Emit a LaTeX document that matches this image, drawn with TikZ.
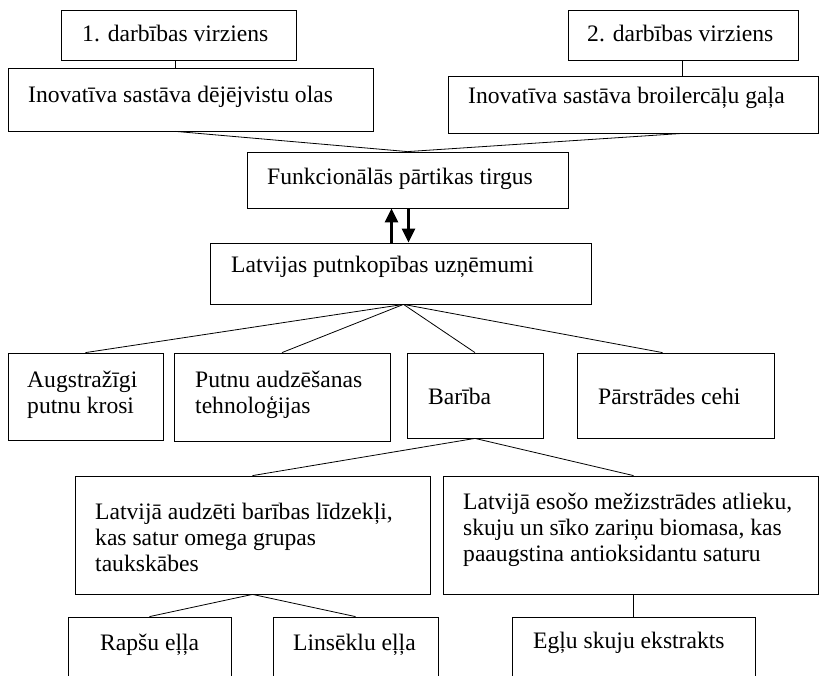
\documentclass[tikz,border=0pt]{standalone}
\usepackage{fontspec}
\setmainfont{Liberation Serif}
\usetikzlibrary{arrows.meta,calc}
\newcommand{\fsz}{\fontsize{23.6}{26.5}\selectfont}
\begin{document}
\begin{tikzpicture}[x=1pt,y=-1pt,
  box/.style={draw, line width=0.8pt, inner sep=0pt},
  txt/.style={font=\fsz, inner sep=0pt, anchor=base west},
  con/.style={line width=0.8pt},
  arr/.style={line width=2.4pt, -{Triangle[length=14pt,width=13pt]}}]
\useasboundingbox (0,0) rectangle (820,676);
\clip (0,0) rectangle (820,676);
\fill[white] (0,0) rectangle (820,676);
% boxes
\newcommand{\boxat}[5]{\node[box, minimum width={#4-#2}, minimum height={#5-#3}] (#1) at ({(#2+#4)/2},{(#3+#5)/2}) {};}
\boxat{dv1}{61}{10}{296}{60}
\boxat{dv2}{568}{10}{798}{60}
\boxat{in1}{8}{68}{373}{131}
\boxat{in2}{448}{76}{818}{133}
\boxat{fun}{247}{152}{568}{208}
\boxat{lat}{210}{243}{591}{304}
\boxat{aug}{8}{353}{163}{440}
\boxat{put}{174}{353}{390}{441}
\boxat{bar}{407}{353}{543}{438}
\boxat{par}{577}{353}{774}{438}
\boxat{lv1}{75}{476}{430}{594}
\boxat{lv2}{443}{476}{818}{594}
\boxat{rap}{68}{617}{231}{700}
\boxat{lin}{273}{617}{438}{700}
\boxat{egl}{512}{617}{755}{700}
% texts
\node[txt] (tdv1) at (82,42) {1. darbības virziens};
\node[txt] (tdv2) at (587,42) {2. darbības virziens};
\node[txt] (tin1) at (28,103) {Inovatīva sastāva dējējvistu olas};
\node[txt] (tin2) at (468,104) {Inovatīva sastāva broilercāļu gaļa};
\node[txt] (tfun) at (267,185) {Funkcionālās pārtikas tirgus};
\node[txt] (tlat) at (231,273) {Latvijas putnkopības uzņēmumi};
\node[txt] (taug1) at (27,388) {Augstražīgi};
\node[txt] (taug2) at (27,414) {putnu krosi};
\node[txt] (tput1) at (195,388) {Putnu audzēšanas};
\node[txt] (tput2) at (195,414) {tehnoloģijas};
\node[txt] (tbar) at (428,405) {Barība};
\node[txt] (tpar) at (598,405) {Pārstrādes cehi};
\node[txt] (tlv1a) at (95,519) {Latvijā audzēti barības līdzekļi,};
\node[txt] (tlv1b) at (95,545) {kas satur omega grupas};
\node[txt] (tlv1c) at (95,571) {taukskābes};
\node[txt] (tlv2a) at (463,509) {Latvijā esošo mežizstrādes atlieku,};
\node[txt] (tlv2b) at (463,535) {skuju un sīko zariņu biomasa, kas};
\node[txt] (tlv2c) at (463,561) {paaugstina antioksidantu saturu};
\node[txt] (trap) at (100,650) {Rapšu eļļa};
\node[txt] (tlin) at (293,650) {Linsēklu eļļa};
\node[txt] (tegl) at (533,648) {Egļu skuju ekstrakts};
% connectors
\coordinate (in1b) at ($(in1.south west)+(168,0)$);
\coordinate (in2b) at ($(in2.south west)+(235,0)$);
\draw[con] (dv1.south -| in1b) -- (in1b |- in1.north);
\draw[con] (dv2.south -| in2b) -- (in2b |- in2.north);
\draw[con] (in1b) -- (fun.north);
\draw[con] (in2b) -- (fun.north);
\draw[arr] ($(fun.south)+(-16,35)$) coordinate (au) -- (au |- fun.south);
\draw[arr] ($(fun.south)+(1,0)$) coordinate (ad) -- (ad |- lat.north);
\coordinate (latb) at ($(lat.south)+(3,0)$);
\coordinate (parT) at ($(par.north)+(-13,0)$);
\draw[con] (latb) -- (aug.north);
\draw[con] (latb) -- (put.north);
\draw[con] (latb) -- (bar.north);
\draw[con] (latb) -- (parT);
\coordinate (lv2T) at ($(lv2.north)+(3,0)$);
\draw[con] (bar.south) -- (lv1.north);
\draw[con] (bar.south) -- (lv2T);
\draw[con] (lv1.south) -- (rap.north);
\draw[con] (lv1.south) -- (lin.north);
\draw[con] (lv2.south -| egl.north) -- (egl.north);
\end{tikzpicture}
\end{document}
